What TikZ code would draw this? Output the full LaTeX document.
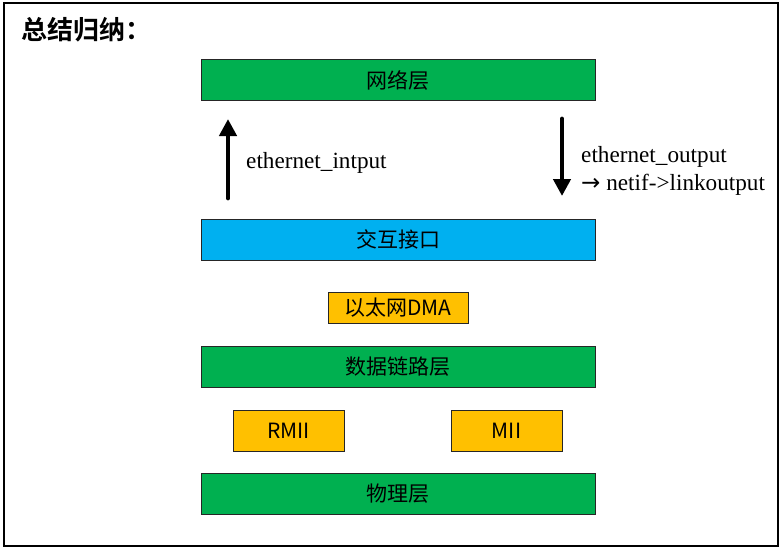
\documentclass[tikz,border=0pt]{standalone}
\usepackage{fontspec}
\setmainfont{Liberation Serif}
\newfontfamily\cjk{Noto Sans CJK SC}
\newfontfamily\cjkbold{Noto Sans CJK SC Bold}
\newfontfamily\symb{DejaVu Sans}
\usetikzlibrary{
    arrows.meta,
    positioning,
    calc
}
\definecolor{layergreen}{HTML}{00B050}
\definecolor{ifaceblue}{HTML}{00B0F0}
\definecolor{partorange}{HTML}{FFC000}
\tikzset{
    layer/.style = {
        rectangle,
        draw=black!85,
        line width=0.9pt,
        fill=layergreen,
        minimum width=394pt,
        minimum height=41pt,
        inner sep=0pt,
        font=\cjk\fontsize{21}{24}\selectfont
    },
    part/.style = {
        layer,
        fill=partorange,
        minimum width=111pt
    },
    flow/.style = {
        -{Triangle[width=17pt,length=17pt]},
        line width=4.8pt,
        line cap=round
    },
    flowlabel/.style = {
        anchor=west,
        inner sep=0pt,
        align=left,
        font=\fontsize{23.2}{28}\selectfont
    }
}

\begin{document}
\begin{tikzpicture}[x=1pt,y=-1pt]
\useasboundingbox (0,0) rectangle (783,550);
\draw[line width=1.6pt] (4,3) rectangle (778,546);
\node[anchor=west, inner sep=0pt, font=\cjkbold\fontsize{26}{30}\selectfont] (title) at (21,30) {总结归纳：};
% layers
\node[layer] (net) at (398,80) {网络层};
\node[layer, fill=ifaceblue] (iface) at (398,239.5) {交互接口};
\node[part, minimum width=140pt, minimum height=31pt] (dma) at (398,308) {以太网DMA};
\node[layer] (link) at (398,367) {数据链路层};
\node[part] (rmii) at (288.5,430.5) {RMII};
\node[part] (mii) at (506.5,430.5) {MII};
\node[layer] (phy) at (398,493.5) {物理层};
% in / out
\coordinate (inS) at (228,198);
\coordinate (inE) at (228,119);
\coordinate (outS) at (562,119);
\coordinate (outE) at (562,196);
\draw[flow] (inS) -- (inE);
\draw[flow] (outS) -- (outE);
\node[flowlabel] (inlabel) at (246,163) {ethernet\_intput};
\node[flowlabel] (outlabel) at (581,171) {ethernet\_output\\{\symb\fontsize{23}{28}\selectfont →} netif->linkoutput};
\end{tikzpicture}
\end{document}
